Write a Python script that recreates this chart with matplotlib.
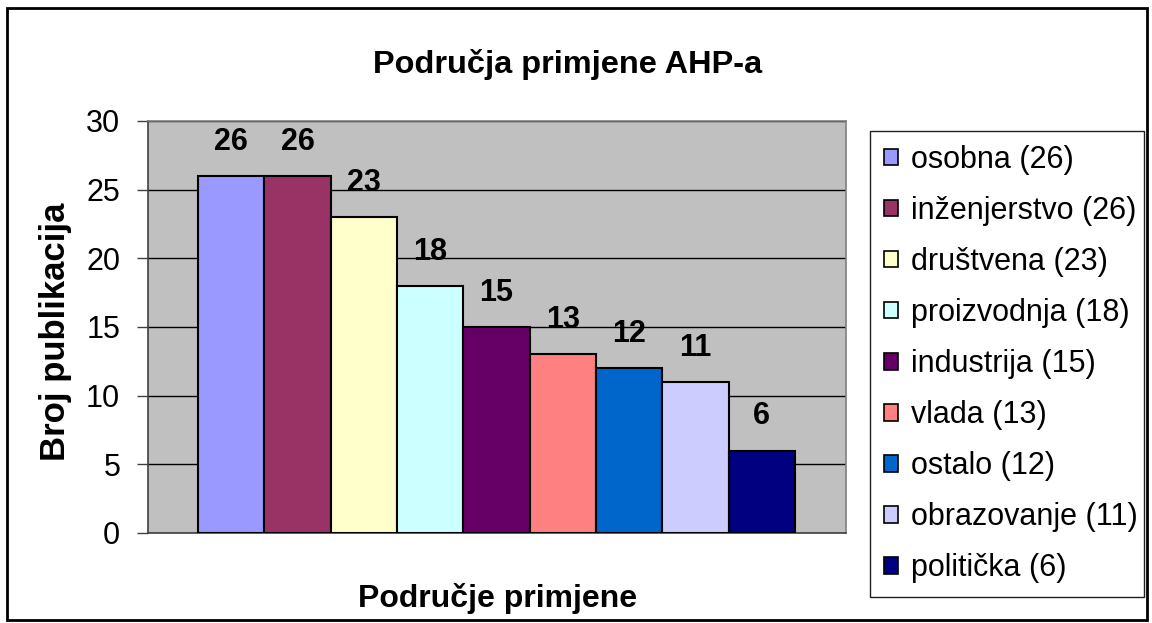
import matplotlib
matplotlib.use("Agg")
import matplotlib.pyplot as plt
from matplotlib.patches import Patch, Rectangle

plt.rcParams['font.family'] = ['Liberation Sans', 'DejaVu Sans']

categories = ["osobna", "inženjerstvo", "društvena", "proizvodnja", "industrija",
              "vlada", "ostalo", "obrazovanje", "politička"]
counts = [26, 26, 23, 18, 15, 13, 12, 11, 6]
colors = ["#9999FF", "#993366", "#FFFFCC", "#CCFFFF", "#660066",
          "#FF8080", "#0066CC", "#CCCCFF", "#000080"]
yticks = [0, 5, 10, 15, 20, 25, 30]

W, H = 1152, 623
fig = plt.figure(figsize=(W / 100, H / 100), dpi=100)

# plot area in pixel coordinates
px_l, px_t, px_r, px_b = 148, 121, 846, 533
ax = fig.add_axes([px_l / W, 1 - px_b / H, (px_r - px_l) / W, (px_b - px_t) / H])
ax.set_facecolor("#C0C0C0")

x = list(range(len(counts)))
ax.bar(x, counts, width=1.0, color=colors, edgecolor="black",
       linewidth=1.5, zorder=3)
for xi, v in zip(x, counts):
    ax.annotate(str(v), (xi, v), xytext=(0, 18.8), textcoords="offset points",
                ha="center", va="baseline", fontsize=22, fontweight="bold",
                zorder=4)

ax.set_ylim(0, 30)
ax.set_xlim(-0.5 - 0.754, len(counts) - 0.5 + 0.769)
ax.set_yticks(yticks)
ax.set_yticklabels([str(t) for t in yticks], fontsize=22)
ax.set_xticks([])
ax.tick_params(axis="y", direction="out", length=8, width=1, color="#404040", pad=12)
ax.yaxis.grid(True, color="black", linewidth=1.0, zorder=1)
ax.set_axisbelow(True)

for side in ("top", "right"):
    ax.spines[side].set_color("#808080")
    ax.spines[side].set_linewidth(1.2)
for side in ("left", "bottom"):
    ax.spines[side].set_color("#404040")
    ax.spines[side].set_linewidth(1.2)

fig.text(55 / W, 1 - 332 / H, "Broj publikacija", rotation=90, ha="center",
         va="center", fontsize=25, fontweight="bold")
fig.text(498 / W, 1 - 606.7 / H, "Područje primjene", ha="center", va="baseline",
         fontsize=23, fontweight="bold")
fig.text(567.5 / W, 1 - 72.7 / H, "Područja primjene AHP-a", ha="center",
         va="baseline", fontsize=23.4, fontweight="bold")

handles = [Patch(facecolor=c, edgecolor="black", linewidth=1.2) for c in colors]
labels = [f"{c} ({v})" for c, v in zip(categories, counts)]
leg = fig.legend(handles, labels, loc="upper left", mode="expand",
                 bbox_to_anchor=(870 / W, 1 - 597 / H, 274 / W, 466 / H),
                 fontsize=22, frameon=True, fancybox=False, shadow=False,
                 framealpha=1, edgecolor="#202020", handlelength=0.46,
                 handleheight=0.46, handletextpad=0.42, labelspacing=0.69,
                 borderpad=0.45, borderaxespad=0)
leg.get_frame().set_linewidth(1.0)

# outer border of the chart
fig.patches.append(Rectangle((7 / W, 3 / H), 1140 / W, 612 / H, transform=fig.transFigure,
                             fill=False, edgecolor="black", linewidth=2))

fig.savefig("out.png", dpi=100)
